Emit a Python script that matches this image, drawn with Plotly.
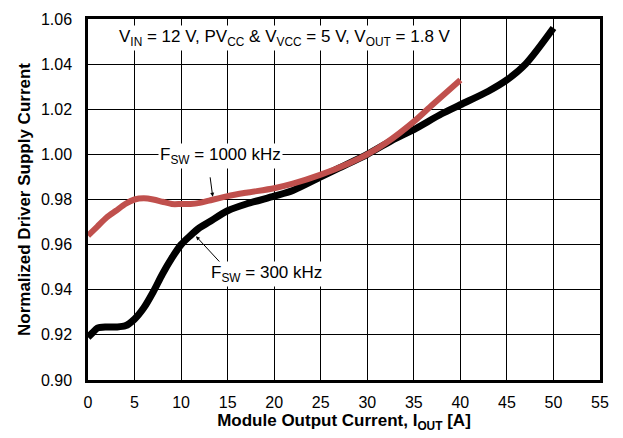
import plotly.graph_objects as go

# Data
x_300 = [0, 0.5, 1, 2, 3, 4, 5, 6, 7, 8, 9, 10, 11, 12, 13, 15, 17, 20, 22, 25, 27, 30, 33, 35, 38, 40, 43, 45, 47, 50]
y_300 = [0.919, 0.921, 0.923, 0.9235, 0.9235, 0.924, 0.927, 0.932, 0.939, 0.947, 0.954, 0.960, 0.964, 0.9675, 0.970, 0.975, 0.978, 0.9815, 0.984, 0.990, 0.994, 1.000, 1.007, 1.011, 1.018, 1.022, 1.028, 1.033, 1.040, 1.056]

x_1000 = [0, 1, 2, 3, 4, 5, 6, 7, 8, 9, 10, 11, 12, 13, 15, 17, 20, 22, 25, 28, 30, 32, 35, 37, 40]
y_1000 = [0.964, 0.968, 0.972, 0.975, 0.978, 0.980, 0.9805, 0.980, 0.979, 0.978, 0.978, 0.978, 0.9785, 0.9795, 0.9815, 0.983, 0.985, 0.987, 0.991, 0.996, 1.000, 1.005, 1.0145, 1.022, 1.033]

x_ticks = [0, 5, 10, 15, 20, 25, 30, 35, 40, 45, 50, 55]
y_ticks = [0.90, 0.92, 0.94, 0.96, 0.98, 1.00, 1.02, 1.04, 1.06]

FONT = "Liberation Sans, Arial, Helvetica, sans-serif"

fig = go.Figure()
fig.add_trace(go.Scatter(x=x_300, y=y_300, mode="lines",
                         line=dict(color="black", width=7, shape="spline", smoothing=0.8),
                         showlegend=False))
fig.add_trace(go.Scatter(x=x_1000, y=y_1000, mode="lines",
                         line=dict(color="#C0504D", width=6, shape="spline", smoothing=0.8),
                         showlegend=False))

fig.add_annotation(x=21.2, y=1.0515, xref="x", yref="y",
                   text="V<sub>IN</sub> = 12 V, PV<sub>CC</sub> &amp; V<sub>VCC</sub> = 5 V, V<sub>OUT</sub> = 1.8 V",
                   showarrow=False, bgcolor="white", font=dict(size=17, color="black", family=FONT))
fig.add_annotation(x=13.4, y=0.9812, ax=13.1, ay=0.9905, xref="x", yref="y", axref="x", ayref="y",
                   text="", showarrow=True, arrowhead=2, arrowsize=0.8, arrowwidth=1, arrowcolor="black")
fig.add_annotation(x=14.2, y=0.9995, xref="x", yref="y",
                   text="F<sub>SW</sub> = 1000 kHz", showarrow=False, bgcolor="white",
                   font=dict(size=17, color="black", family=FONT))
fig.add_annotation(x=11.6, y=0.9637, ax=14.4, ay=0.9512, xref="x", yref="y", axref="x", ayref="y",
                   text="", showarrow=True, arrowhead=2, arrowsize=0.8, arrowwidth=1, arrowcolor="black")
fig.add_annotation(x=19.2, y=0.9468, xref="x", yref="y",
                   text="F<sub>SW</sub> = 300 kHz", showarrow=False, bgcolor="white",
                   font=dict(size=17, color="black", family=FONT))

fig.update_layout(
    width=623, height=438,
    margin=dict(l=88, r=23, t=11, b=58),
    paper_bgcolor="white", plot_bgcolor="white",
    font=dict(family=FONT, size=16, color="black"),
)
fig.update_xaxes(range=[0, 55], tickvals=x_ticks, ticktext=[str(v) for v in x_ticks],
                 showgrid=True, gridcolor="black", gridwidth=1.3,
                 showline=True, linecolor="black", linewidth=2.5, mirror=True,
                 zeroline=False, ticks="outside", ticklen=6, tickcolor="rgba(0,0,0,0)",
                 tickfont=dict(size=16),
                 title=dict(text="<b>Module Output Current, I<sub>OUT</sub> [A]</b>",
                            font=dict(size=17, family=FONT), standoff=4))
fig.update_yaxes(range=[0.90, 1.06], tickvals=y_ticks, ticktext=[f"{v:.2f}" for v in y_ticks],
                 showgrid=True, gridcolor="black", gridwidth=1.3,
                 showline=True, linecolor="black", linewidth=2.5, mirror=True,
                 zeroline=False, ticks="outside", ticklen=10, tickcolor="rgba(0,0,0,0)",
                 tickfont=dict(size=16),
                 title=dict(text="<b>Normalized Driver Supply Current</b>",
                            font=dict(size=17, family=FONT), standoff=6))

fig.write_html("out.html")
